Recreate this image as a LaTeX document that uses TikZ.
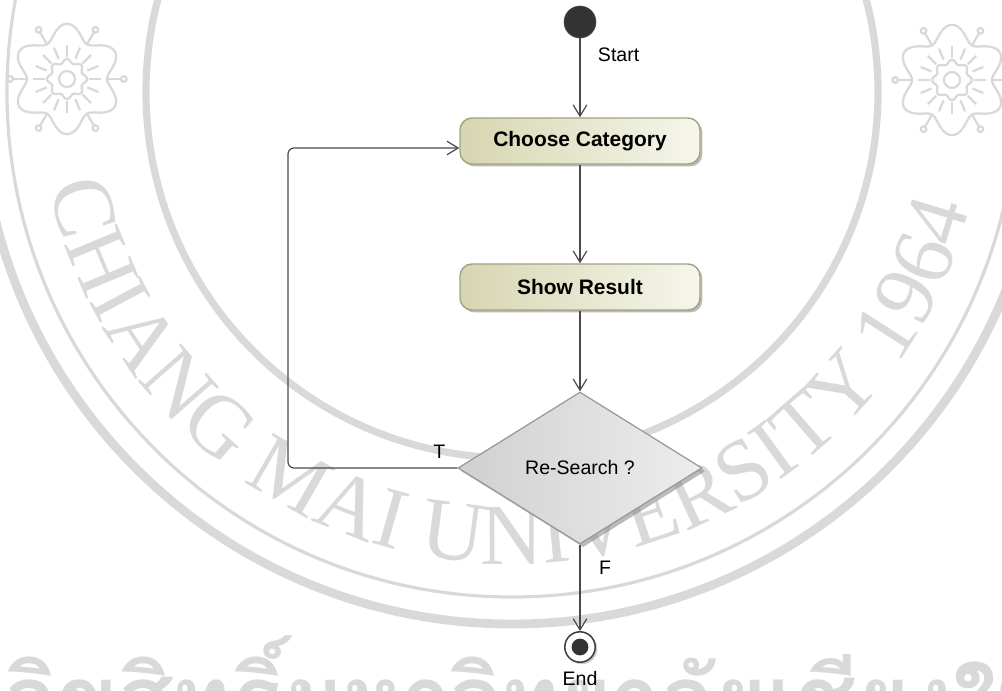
\documentclass[tikz,border=0pt]{standalone}
\usepackage{fontspec}
\setmainfont{Liberation Sans}
\newfontfamily\wmserif{Liberation Serif}
\newfontfamily\thaifont[Script=Thai]{Loma}
\usetikzlibrary{positioning,arrows.meta,shapes.geometric,shadows,decorations.text}

\definecolor{actleft}{HTML}{D6D6B2}
\definecolor{actright}{HTML}{F6F6EC}
\definecolor{actborder}{HTML}{A3A383}
\definecolor{decleft}{HTML}{D0D0D0}
\definecolor{decright}{HTML}{EDEDED}
\definecolor{decborder}{HTML}{9A9A9A}
\definecolor{flowgray}{HTML}{4A4A4A}
\definecolor{wmgray}{HTML}{D9D9D9}

\tikzset{
  action/.style={rectangle, rounded corners=0.3cm, draw=actborder, line width=1pt,
    left color=actleft, right color=actright, minimum width=6cm, minimum height=1.15cm,
    font=\fontsize{14.9}{17}\selectfont\bfseries,
    drop shadow={shadow xshift=0.06cm, shadow yshift=-0.06cm, fill=black!45, opacity=0.6}},
  decision/.style={diamond, draw=decborder, line width=0.9pt, left color=decleft, right color=decright,
    minimum width=6.1cm, minimum height=3.8cm, inner sep=0pt, font=\fontsize{13.9}{16}\selectfont,
    drop shadow={shadow xshift=0.08cm, shadow yshift=-0.08cm, fill=black!45, opacity=0.6}},
  startdot/.style={circle, fill=black!80, draw=black!70, minimum size=0.8cm, inner sep=0pt},
  enddot/.style={circle, draw=black!75, fill=white, line width=1.1pt, minimum size=0.76cm, inner sep=0pt,
    drop shadow={shadow xshift=0.05cm, shadow yshift=-0.05cm, fill=black!40, opacity=0.5},
    path picture={\fill[black!80] (path picture bounding box.center) circle (0.21cm);}},
  lbl/.style={font=\fontsize{13.9}{16}\selectfont, inner sep=1pt},
  flow/.style={draw=flowgray, line width=0.85pt, -{Straight Barb[length=0.28cm,width=0.34cm]}},
  wm/.style={draw=wmgray},
}

\begin{document}
\begin{tikzpicture}
  \useasboundingbox[fill=white] (0,0) rectangle (25.05,17.25);

  % watermark of the page
  \begin{scope}
    \clip (0,0) rectangle (25.05,17.25);
    \coordinate (seal) at (12.8,14.95);
    \draw[wm, line width=0.18cm] (seal) circle (9.15);
    \draw[wm, line width=0.08cm] (seal) circle (12.625);
    \draw[wm, line width=0.22cm] (seal) circle (13.3);
    \path[decorate, decoration={text along path, text align=center, text color=wmgray,
      text={|\fontsize{62}{62}\wmserif|CHIANG MAI UNIVERSITY 1964}}]
      ([shift={(178:11.8)}]seal) arc[start angle=178, end angle=359.4, radius=11.8];
    \foreach \fx/\fy in {1.675/15.275, 23.8/15.25} {
      \begin{scope}[shift={(\fx,\fy)}, wm, line width=1.6pt]
        \draw plot[domain=0:360, samples=121, smooth] (\x:{1.19-0.19*cos(6*\x)}) -- cycle;
        \draw (0,0) circle (0.2);
        \draw plot[domain=0:360, samples=97, smooth] (\x:{0.45+0.05*cos(8*\x)}) -- cycle;
        \foreach \a in {0,22.5,...,337.5} \draw (\a:0.55) -- (\a:0.85);
        \foreach \a in {0,60,...,300} {
          \draw (\a:1.0) -- (\a:1.35);
          \draw (\a:1.42) circle (0.07);
        }
      \end{scope}
    }
    \node[anchor=base west, inner sep=0pt, text=wmgray, font=\fontsize{63}{63}\thaifont\bfseries] (thaimark)
      at (0.1,-0.98) {ลิขสิทธิ์มหาวิทยาลัยเชียงใหม่};
  \end{scope}

  % activity flow
  \node[startdot] (start) at (14.5,16.7) {};
  \node[action, below of=start, node distance=2.975cm] (choose) {Choose Category};
  \node[action, below of=choose, node distance=3.65cm] (show) {Show Result};
  \node[decision, below of=show, node distance=4.525cm] (research) {Re-Search ?};
  \node[enddot, below of=research, node distance=4.475cm] (end) {};

  \node[lbl, anchor=west] (startlbl) at ([yshift=-0.825cm]start.east) {Start};
  \node[lbl] (tlbl) at ([xshift=-0.45cm, yshift=0.4cm]research.west) {T};
  \node[lbl] (flbl) at ([xshift=0.625cm, yshift=-0.575cm]research.south) {F};
  \node[lbl] (endlbl) at ([yshift=-0.8cm]end.center) {End};

  \draw[flow] (start) -- (choose);
  \draw[flow] (choose) -- (show);
  \draw[flow] (show) -- (research);
  \draw[flow] (research) -- (end);
  \coordinate (loopback) at (7.2,13.55);
  \draw[flow, rounded corners=0.15cm] (research.west) -| (loopback) -- ([yshift=-0.175cm]choose.west);
\end{tikzpicture}
\end{document}
